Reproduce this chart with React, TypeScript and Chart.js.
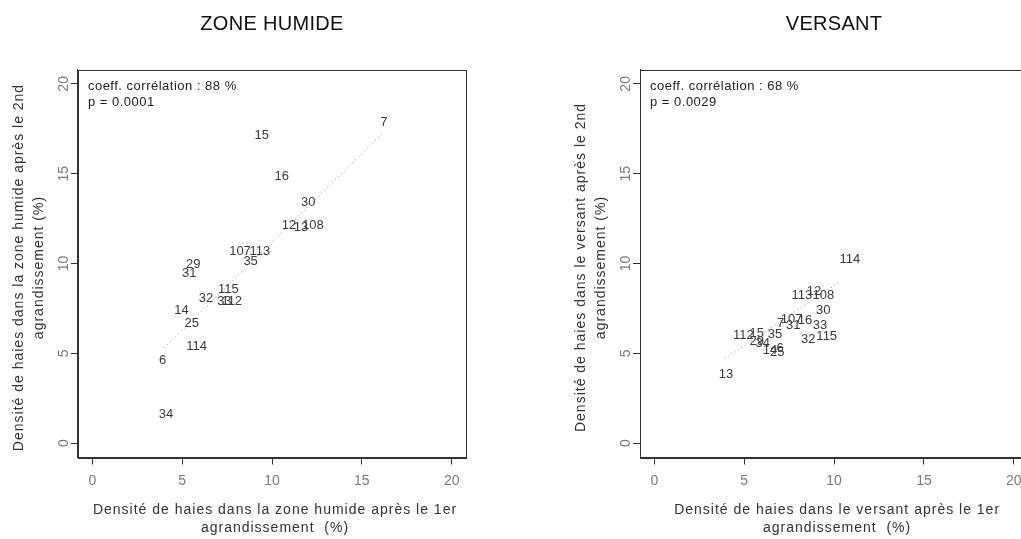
import React, { useEffect, useRef } from "react";
import { Chart, registerables } from "chart.js";

Chart.register(...registerables);

// ---- data ----
const siteIds = ["7", "15", "16", "30", "12", "13", "108", "107", "113", "35", "29", "31", "32", "115", "33", "112", "14", "25", "114", "6", "34"];
// Zone humide: density after 1st (x) and 2nd (y) enlargement (%)
const zhX = [16.23, 9.43, 10.54, 12.02, 10.95, 11.61, 12.28, 8.22, 9.33, 8.81, 5.62, 5.4, 6.33, 7.57, 7.35, 7.76, 4.97, 5.53, 5.81, 3.92, 4.1];
const zhY = [17.84, 17.13, 14.83, 13.41, 12.1, 12.02, 12.1, 10.67, 10.67, 10.11, 9.93, 9.46, 8.07, 8.53, 7.88, 7.88, 7.37, 6.67, 5.36, 4.62, 1.6];
// Versant
const vX = [7.03, 5.69, 8.38, 9.4, 8.88, 3.98, 9.4, 7.64, 8.2, 6.71, 5.69, 7.73, 8.56, 9.59, 9.21, 4.95, 6.43, 6.84, 10.88, 7.0, 6.03];
const vY = [6.67, 6.11, 6.82, 7.41, 8.47, 3.84, 8.21, 6.89, 8.21, 6.07, 5.64, 6.54, 5.78, 5.92, 6.58, 5.98, 5.14, 5.03, 10.25, 5.27, 5.55];
// regression lines (endpoints)
const zhFitX = [4.0, 16.1];
const zhFitY = [5.3, 17.2];
const vFitX = [3.9, 10.35];
const vFitY = [4.7, 9.0];

const axisTicks = [0, 5, 10, 15, 20];
const axisMin = -0.8;
const axisMax = 20.8;

const FONT = "'Liberation Sans', Arial, sans-serif";

const labelPlugin = {
  id: "pointLabels",
  afterDatasetsDraw(chart: any) {
    const ctx = chart.ctx;
    chart.data.datasets.forEach((ds: any, di: number) => {
      if (!ds.pointLabels) return;
      const meta = chart.getDatasetMeta(di);
      ctx.save();
      ctx.font = `13px ${FONT}`;
      ctx.fillStyle = "#3a3a3a";
      ctx.textAlign = "center";
      ctx.textBaseline = "middle";
      meta.data.forEach((el: any, i: number) => {
        ctx.fillText(ds.pointLabels[i], el.x, el.y);
      });
      ctx.restore();
    });
  },
};

function spaced(ctx: any, s: string) {
  try {
    ctx.letterSpacing = s;
  } catch (e) {
    /* ignore */
  }
}

const decoPlugin = {
  id: "deco",
  afterDraw(chart: any, _args: any, opts: any) {
    const ctx = chart.ctx;
    const a = chart.chartArea;
    ctx.save();
    // box
    ctx.strokeStyle = "#333";
    ctx.lineWidth = 1;
    ctx.strokeRect(Math.round(a.left) + 0.5, Math.round(a.top) + 0.5, Math.round(a.right - a.left), Math.round(a.bottom - a.top));
    // y tick labels (rotated, as in R)
    const ys = chart.scales.y;
    ctx.font = `14px ${FONT}`;
    ctx.fillStyle = "#7a7a7a";
    ctx.textAlign = "center";
    ctx.textBaseline = "middle";
    ys.ticks.forEach((t: any) => {
      const py = ys.getPixelForValue(t.value);
      ctx.save();
      ctx.translate(a.left - 14, py);
      ctx.rotate(-Math.PI / 2);
      ctx.fillText(String(t.value), 0, 0);
      ctx.restore();
    });
    const cx = (a.left + a.right) / 2;
    const cy = (a.top + a.bottom) / 2;
    // main title
    ctx.font = `20px ${FONT}`;
    ctx.fillStyle = "#111";
    spaced(ctx, "0.3px");
    ctx.fillText(opts.title, cx, 24);
    // x title
    ctx.font = `14px ${FONT}`;
    ctx.fillStyle = "#333";
    spaced(ctx, "1px");
    ctx.fillText(opts.xTitle[0], cx + 3, 510);
    ctx.fillText(opts.xTitle[1], cx + 3, 528);
    // y title
    ctx.save();
    ctx.translate(a.left - 59, cy + 4);
    ctx.rotate(-Math.PI / 2);
    ctx.fillText(opts.yTitle[0], 0, 0);
    ctx.restore();
    ctx.save();
    ctx.translate(a.left - 39, cy + 4);
    ctx.rotate(-Math.PI / 2);
    ctx.fillText(opts.yTitle[1], 0, 0);
    ctx.restore();
    // correlation text
    ctx.font = `13px ${FONT}`;
    ctx.fillStyle = "#222";
    ctx.textAlign = "left";
    spaced(ctx, "0.5px");
    ctx.fillText(opts.corr[0], a.left + 10, 86);
    ctx.fillText(opts.corr[1], a.left + 10, 102);
    spaced(ctx, "0px");
    ctx.restore();
  },
};

function makeScale(axis: "x" | "y", hideLabels: boolean) {
  return {
    type: "linear",
    min: axisMin,
    max: axisMax,
    afterBuildTicks: (s: any) => {
      s.ticks = axisTicks.map((v) => ({ value: v }));
    },
    afterFit: (s: any) => {
      if (axis === "x") s.height = 40;
      else s.width = 10;
    },
    grid: {
      drawOnChartArea: false,
      drawTicks: true,
      tickLength: 7,
      color: "#333",
      lineWidth: 1,
    },
    border: { display: true, color: "#333", width: 1 },
    ticks: {
      display: !hideLabels,
      color: "#7a7a7a",
      font: { family: FONT, size: 14 },
      padding: 8,
      maxRotation: 0,
      minRotation: 0,
      autoSkip: false,
    },
  };
}

type PanelProps = {
  left: number;
  width: number;
  areaLeft: number;
  areaRight: number;
  xs: number[];
  ys: number[];
  fitX: number[];
  fitY: number[];
  title: string;
  xTitle: string[];
  yTitle: string[];
  corr: string[];
};

const H = 539;
const AREA_TOP = 69.5;
const AREA_BOTTOM = 457.5;

function Panel(p: PanelProps) {
  const ref = useRef<HTMLCanvasElement>(null);
  useEffect(() => {
    if (!ref.current) return;
    const yAxisW = 10;
    const xAxisH = 40;
    const chart = new Chart(ref.current, {
      type: "scatter",
      data: {
        datasets: [
          {
            type: "line",
            data: p.fitX.map((x, i) => ({ x, y: p.fitY[i] })),
            borderColor: "#8a8a8a",
            borderWidth: 1,
            borderDash: [1, 3],
            pointRadius: 0,
            fill: false,
            tension: 0,
          } as any,
          {
            data: p.xs.map((x, i) => ({ x, y: p.ys[i] })),
            pointRadius: 0,
            pointHoverRadius: 0,
            pointLabels: siteIds,
          } as any,
        ],
      },
      options: {
        responsive: false,
        animation: false,
        devicePixelRatio: 1,
        events: [],
        layout: {
          padding: {
            left: p.areaLeft - yAxisW,
            right: p.width - p.areaRight,
            top: AREA_TOP,
            bottom: H - AREA_BOTTOM - xAxisH,
          },
        },
        scales: {
          x: makeScale("x", false) as any,
          y: makeScale("y", true) as any,
        },
        plugins: {
          legend: { display: false },
          tooltip: { enabled: false },
          deco: {
            title: p.title,
            xTitle: p.xTitle,
            yTitle: p.yTitle,
            corr: p.corr,
          },
        } as any,
      },
      plugins: [labelPlugin, decoPlugin],
    });
    return () => chart.destroy();
  }, []);
  return (
    <canvas
      ref={ref}
      width={p.width}
      height={H}
      style={{ position: "absolute", left: p.left, top: 0, width: p.width, height: H }}
    />
  );
}

export default function App() {
  return (
    <div
      style={{
        position: "fixed",
        left: 0,
        top: 0,
        width: 1021,
        height: 539,
        overflow: "hidden",
        background: "#fff",
      }}
    >
      <Panel
        left={0}
        width={510}
        areaLeft={77.9}
        areaRight={466.1}
        xs={zhX}
        ys={zhY}
        fitX={zhFitX}
        fitY={zhFitY}
        title="ZONE HUMIDE"
        xTitle={["Densité de haies dans la zone humide après le 1er", "agrandissement  (%)"]}
        yTitle={["Densité de haies dans la zone humide après le 2nd", "agrandissement (%)"]}
        corr={["coeff. corrélation : 88 %", "p = 0.0001"]}
      />
      <Panel
        left={560}
        width={520}
        areaLeft={80}
        areaRight={468.2}
        xs={vX}
        ys={vY}
        fitX={vFitX}
        fitY={vFitY}
        title="VERSANT"
        xTitle={["Densité de haies dans le versant après le 1er", "agrandissement  (%)"]}
        yTitle={["Densité de haies dans le versant après le 2nd", "agrandissement (%)"]}
        corr={["coeff. corrélation : 68 %", "p = 0.0029"]}
      />
    </div>
  );
}
